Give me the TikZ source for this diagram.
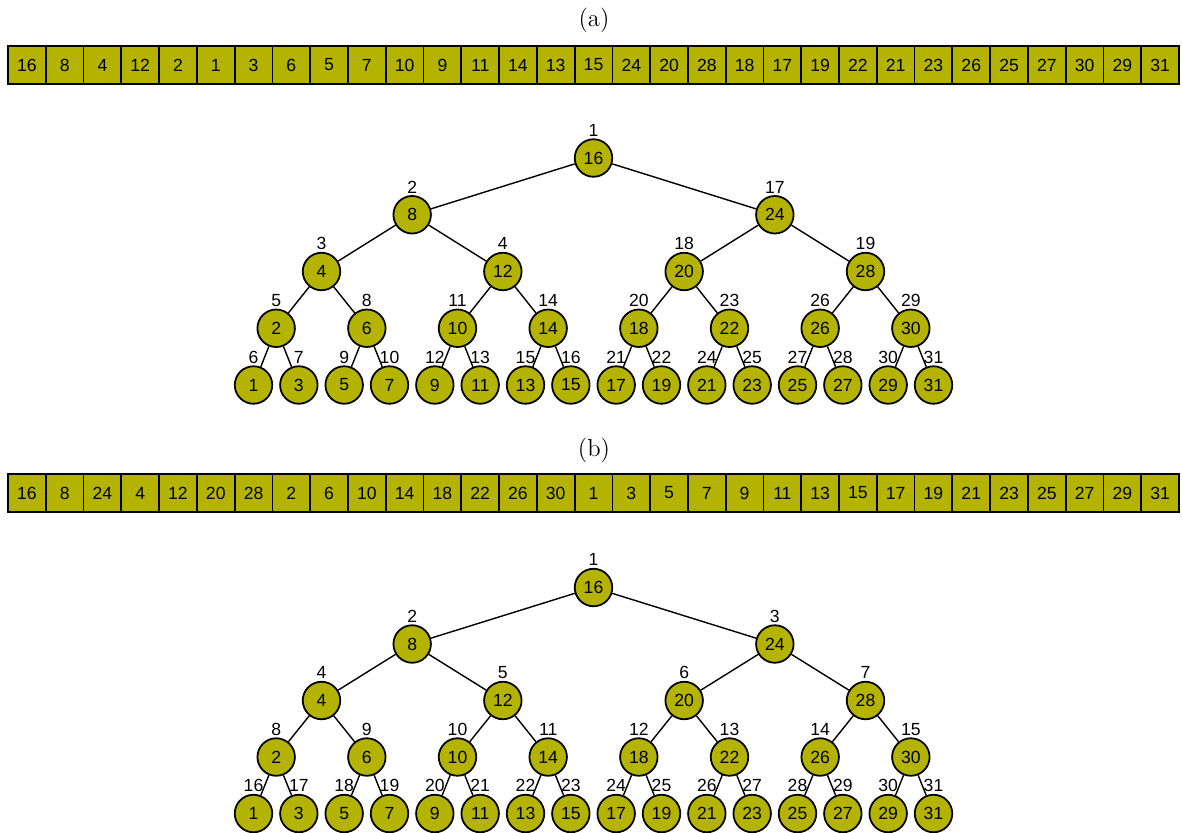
\documentclass[tikz,border=0pt]{standalone}
\usepackage{fontspec}
\newfontfamily\arialf{Liberation Sans}
\definecolor{nodefill}{RGB}{179,179,0}
\begin{document}
\begin{tikzpicture}[x=0.02cm,y=-0.02cm,
  cell/.style={draw=black, fill=nodefill, line width=1pt, minimum width=0.7555cm, minimum height=0.76cm, inner sep=0pt, outer sep=0pt, font=\arialf\fontsize{10}{12}\selectfont},
  tnode/.style={circle, draw=black, fill=nodefill, line width=1pt, minimum size=0.75cm, inner sep=0pt, font=\arialf\fontsize{10}{12}\selectfont},
  lbl/.style={font=\arialf\fontsize{10}{12}\selectfont, inner sep=1pt, label distance=0pt},
  edge/.style={draw=black, line width=0.8pt},
  title/.style={font=\fontsize{14}{16}\selectfont, inner sep=0pt}]
\useasboundingbox (0,0) rectangle (1182,832);
% titles
\node[title] (ta) at (594,20) {(a)};
\node[title] (tb) at (594,450) {(b)};
% arrays
\foreach \v [count=\i from 0] in {16,8,4,12,2,1,3,6,5,7,10,9,11,14,13,15,24,20,28,18,17,19,22,21,23,26,25,27,30,29,31}
  \node[cell] (aa\i) at ({8+37.774*(\i+0.5)},65) {\v};
\foreach \v [count=\i from 0] in {16,8,24,4,12,20,28,2,6,10,14,18,22,26,30,1,3,5,7,9,11,13,15,17,19,21,23,25,27,29,31}
  \node[cell] (ba\i) at ({8+37.774*(\i+0.5)},493) {\v};
% tree (a)
\foreach \d/\labs in {0/{1},1/{2,17},2/{3,4,18,19},3/{5,8,11,14,20,23,26,29},4/{6,7,9,10,12,13,15,16,21,22,24,25,27,28,30,31}} {
  \foreach \lab [count=\jj from 0] in \labs {
    \pgfmathsetmacro\xx{253.5+45.3333*((\jj+0.5)*2^(4-\d)-0.5)}
    \pgfmathtruncatemacro\val{(2*\jj+1)*2^(4-\d)}
    \pgfmathsetmacro\yy{158+56.75*\d}
    \node[tnode, label={[lbl]above:\lab}] (a-\d-\jj) at (\xx,\yy) {\val};
  }
}
% tree (b)
\foreach \d in {0,...,4} {
  \pgfmathtruncatemacro\nn{2^\d-1}
  \foreach \jj in {0,...,\nn} {
    \pgfmathsetmacro\xx{253.5+45.3333*((\jj+0.5)*2^(4-\d)-0.5)}
    \pgfmathtruncatemacro\val{(2*\jj+1)*2^(4-\d)}
    \pgfmathtruncatemacro\lab{2^\d+\jj}
    \pgfmathsetmacro\yy{587.5+56.5*\d}
    \node[tnode, label={[lbl]above:\lab}] (b-\d-\jj) at (\xx,\yy) {\val};
  }
}
% edges
\foreach \d in {1,...,4} {
  \pgfmathtruncatemacro\nn{2^\d-1}
  \pgfmathtruncatemacro\pd{\d-1}
  \foreach \jj in {0,...,\nn} {
    \pgfmathtruncatemacro\pj{floor(\jj/2)}
    \draw[edge] (a-\pd-\pj) -- (a-\d-\jj);
    \draw[edge] (b-\pd-\pj) -- (b-\d-\jj);
  }
}
\end{tikzpicture}
\end{document}
